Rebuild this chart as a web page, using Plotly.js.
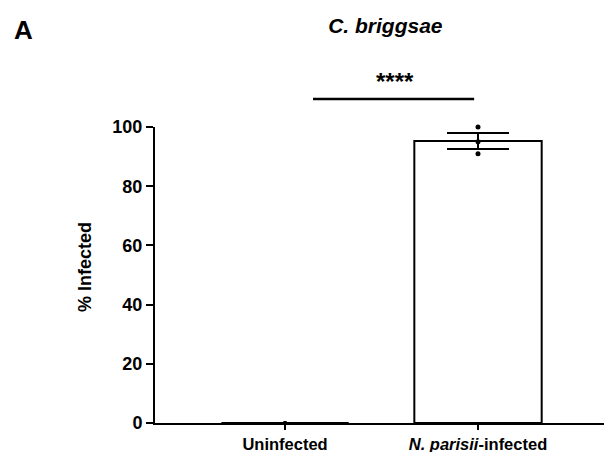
<!DOCTYPE html>
<html><head><meta charset="utf-8">
<script src="https://cdn.plot.ly/plotly-3.0.1.min.js"></script>
<style>body{margin:0;background:#fff}#c{width:604px;height:452px}</style>
</head><body><div id="c"></div>
<script>
const categories = ["Uninfected", "N. parisii-infected"];
const tickLabels = ["<b>Uninfected</b>", "<b><i>N. parisii</i>-infected</b>"];
const means = [0, 95.3];
const sems = [0, 2.7];
const uninfectedPoints = [0, 0, 0];
const infectedPoints = [100, 91, 95];
const significance = "****";
const panelLabel = "A";
const titleText = "C. briggsae";
const yTitle = "% Infected";

const F = "Arial, 'Liberation Sans', sans-serif";
const traces = [
  {type:'bar', x:categories, y:means, width:0.66,
   marker:{color:'white', line:{color:'black', width:2}},
   error_y:{type:'data', array:sems, visible:true, color:'black', thickness:2, width:31},
   hoverinfo:'skip'},
  {type:'scatter', mode:'markers', x:uninfectedPoints.map(()=>categories[0]), y:uninfectedPoints,
   marker:{color:'black', size:4}, cliponaxis:false},
  {type:'scatter', mode:'markers', x:infectedPoints.map(()=>categories[1]), y:infectedPoints,
   marker:{color:'black', size:5}, cliponaxis:false}
];
const layout = {
  width:604, height:452, showlegend:false,
  paper_bgcolor:'white', plot_bgcolor:'white',
  margin:{l:155, r:0, t:127, b:29},
  font:{family:F, color:'black'},
  title:{text:'<b><i>'+titleText+'</i></b>', font:{size:21, family:F}, x:0.638, xanchor:'center', y:0.943, yanchor:'middle'},
  xaxis:{type:'category', range:[-0.674, 1.653], showline:true, linecolor:'black', linewidth:2,
    ticks:'outside', ticklen:5, tickwidth:2, tickcolor:'black',
    tickvals:categories, ticktext:tickLabels, tickfont:{size:16.5, family:F}, showgrid:false, zeroline:false, fixedrange:true},
  yaxis:{range:[0,100], showline:true, linecolor:'black', linewidth:2,
    ticks:'outside', ticklen:7, tickwidth:2, tickcolor:'black',
    tickvals:[0,20,40,60,80,100], ticktext:[0,20,40,60,80,100].map(v=>'<b>'+v+'</b>'),
    tickfont:{size:18, family:F}, showgrid:false, zeroline:false},
  shapes:[{type:'line', xref:'x', yref:'paper', x0:0.145, x1:0.98, y0:1.0945, y1:1.0945, line:{color:'black', width:2.5}}],
  annotations:[
    {text:'<b>'+yTitle+'</b>', xref:'paper', yref:'paper', x:-0.156, y:0.527, textangle:-90, showarrow:false, font:{size:18, family:F}, xanchor:'center', yanchor:'middle'},
    {text:'<b>'+significance+'</b>', xref:'x', yref:'paper', x:0.57, y:1.155, showarrow:false, font:{size:24, family:F}, yanchor:'middle'},
    {text:'<b>'+panelLabel+'</b>', xref:'paper', yref:'paper', x:-0.318, y:1.328, xanchor:'left', yanchor:'middle', showarrow:false, font:{size:26, family:F}}
  ]
};
Plotly.newPlot('c', traces, layout, {displayModeBar:false, staticPlot:true});
</script></body></html>
